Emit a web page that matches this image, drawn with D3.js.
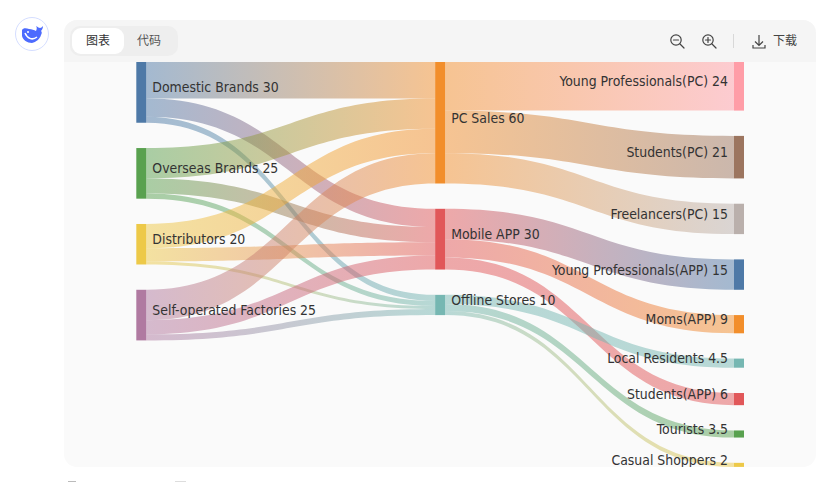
<!DOCTYPE html>
<html>
<head>
<meta charset="utf-8">
<script src="https://cdn.jsdelivr.net/npm/d3@7"></script>
<style>
  html, body { margin: 0; padding: 0; background: #fff; overflow: hidden; }
  svg { display: block; }
  text { font-family: "DejaVu Sans Condensed", "DejaVu Sans", sans-serif; }
  text.ui { font-family: "Noto Sans CJK SC", sans-serif; }
</style>
</head>
<body>
<div id="chart"></div>
<script>
const width = 828, height = 482

// columns, top to bottom
const sources = ['Domestic Brands', 'Overseas Brands', 'Distributors', 'Self-operated Factories']
const sourceValues = [30, 25, 20, 25]
const channels = ['PC Sales', 'Mobile APP', 'Offline Stores']
const channelValues = [60, 30, 10]
const targets = ['Young Professionals(PC)', 'Students(PC)', 'Freelancers(PC)', 'Young Professionals(APP)', 'Moms(APP)', 'Local Residents', 'Students(APP)', 'Tourists', 'Casual Shoppers']
const targetValues = [24, 21, 15, 15, 9, 4.5, 6, 3.5, 2]

// links: rows = sources, cols = channels
const sourceToChannel = [
  [18, 9, 3],
  [15, 7.5, 2.5],
  [12, 6.5, 1.5],
  [15, 7, 3]
]
// rows = channels, cols = targets
const channelToTarget = [
  [24, 21, 15, 0, 0, 0, 0, 0, 0],
  [0, 0, 0, 15, 9, 0, 6, 0, 0],
  [0, 0, 0, 0, 0, 4.5, 0, 3.5, 2]
]

const sourceColors = ['#4e79a7', '#59a14f', '#edc948', '#b07aa1']
const channelColors = ['#f28e2b', '#e15759', '#76b7b2']
const targetColors = ['#ff9da7', '#9c755f', '#bab0ac', '#4e79a7', '#f28e2b', '#76b7b2', '#e15759', '#59a14f', '#edc948']

const nodeW = 10, gap = 25.3, topY = 62

const x = d3.scalePoint().domain([0, 1, 2]).range([136.3, 734])
const size = d3.scaleLinear().domain([0, 60]).range([0, 121.5])

const svg = d3.select('#chart').append('svg').attr('width', width).attr('height', height)
const defs = svg.append('defs')

// panel
svg.append('rect').attr('x', 64).attr('y', 20).attr('width', 752).attr('height', 447).attr('rx', 13).attr('fill', '#fafafa')
defs.append('clipPath').attr('id', 'head').append('rect').attr('x', 64).attr('y', 20).attr('width', 752).attr('height', 42)
svg.append('rect').attr('x', 64).attr('y', 20).attr('width', 752).attr('height', 447).attr('rx', 13)
  .attr('fill', '#f5f5f5').attr('clip-path', 'url(#head)')
defs.append('clipPath').attr('id', 'body').append('rect').attr('x', 64).attr('y', 62).attr('width', 752).attr('height', 405)

const g = svg.append('g').attr('clip-path', 'url(#body)')

function column(names, values, colors, depth) {
  let y = topY
  return names.map((name, i) => {
    const n = { name, value: values[i], color: colors[i], depth, y0: y, y1: y + size(values[i]), out: y, in: y }
    y = n.y1 + gap
    return n
  })
}
const col0 = column(sources, sourceValues, sourceColors, 0)
const col1 = column(channels, channelValues, channelColors, 1)
const col2 = column(targets, targetValues, targetColors, 2)

function makeLinks(from, to, matrix) {
  const out = []
  from.forEach((s, i) => to.forEach((t, j) => {
    const v = matrix[i][j]
    if (!v) return
    out.push({ s, t, v, sy: s.out, ty: t.in })
    s.out += size(v)
    t.in += size(v)
  }))
  return out
}
const links = makeLinks(col0, col1, sourceToChannel).concat(makeLinks(col1, col2, channelToTarget))

links.forEach((l, i) => {
  const x0 = x(l.s.depth) + nodeW, x1 = x(l.t.depth)
  const grad = defs.append('linearGradient').attr('id', 'lg' + i)
    .attr('gradientUnits', 'userSpaceOnUse').attr('x1', x0).attr('x2', x1).attr('y1', 0).attr('y2', 0)
  grad.append('stop').attr('offset', '0%').attr('stop-color', l.s.color)
  grad.append('stop').attr('offset', '100%').attr('stop-color', l.t.color)
  const h = size(l.v), mx = (x0 + x1) / 2
  const p = d3.path()
  p.moveTo(x0, l.sy)
  p.bezierCurveTo(mx, l.sy, mx, l.ty, x1, l.ty)
  p.lineTo(x1, l.ty + h)
  p.bezierCurveTo(mx, l.ty + h, mx, l.sy + h, x0, l.sy + h)
  p.closePath()
  g.append('path').attr('d', p.toString()).attr('fill', `url(#lg${i})`).attr('fill-opacity', 0.5)
})

const nodes = col0.concat(col1, col2)
g.selectAll('rect.node').data(nodes).join('rect').attr('class', 'node')
  .attr('x', d => x(d.depth)).attr('y', d => d.y0)
  .attr('width', nodeW).attr('height', d => d.y1 - d.y0)
  .attr('fill', d => d.color)

// baseline sits on the node's centre in the reference
g.selectAll('text.label').data(nodes).join('text').attr('class', 'label')
  .attr('x', d => d.depth == 2 ? x(d.depth) - 6 : x(d.depth) + nodeW + 6)
  .attr('y', d => (d.y0 + d.y1) / 2)
  .attr('text-anchor', d => d.depth == 2 ? 'end' : 'start')
  .attr('font-size', 13.9).attr('fill', '#333')
  .text(d => d.name + ' ' + d.value)

// toolbar
const ui = svg.append('g')
ui.append('rect').attr('x', 70).attr('y', 26).attr('width', 108).attr('height', 30).attr('rx', 10).attr('fill', '#eeeeee')
ui.append('rect').attr('x', 72).attr('y', 28).attr('width', 52).attr('height', 26).attr('rx', 9).attr('fill', '#fff')
ui.append('text').attr('class', 'ui').attr('x', 98).attr('y', 45).attr('text-anchor', 'middle').attr('font-size', 12).attr('fill', '#333').text('图表')
ui.append('text').attr('class', 'ui').attr('x', 149).attr('y', 45).attr('text-anchor', 'middle').attr('font-size', 12).attr('fill', '#555').text('代码')

function zoomIcon(cx, plus) {
  const ic = ui.append('g').attr('fill', 'none').attr('stroke', '#444').attr('stroke-width', 1.2).attr('stroke-linecap', 'round')
  ic.append('circle').attr('cx', cx - 1).attr('cy', 40).attr('r', 5.2)
  ic.append('path').attr('d', `M${cx + 3},${44} L${cx + 7},${48}`)
  ic.append('path').attr('d', `M${cx - 3.5},40 H${cx + 1.5}`)
  if (plus) ic.append('path').attr('d', `M${cx - 1},37.5 V42.5`)
}
zoomIcon(677, false)
zoomIcon(709, true)
ui.append('rect').attr('x', 733).attr('y', 34).attr('width', 1).attr('height', 14).attr('fill', '#d8d8d8')
ui.append('path').attr('d', 'M759,35 V45 M755,41.5 L759,45.5 L763,41.5 M753,45 V48 H765 V45')
  .attr('fill', 'none').attr('stroke', '#444').attr('stroke-width', 1.2)
ui.append('text').attr('class', 'ui').attr('x', 785).attr('y', 45).attr('text-anchor', 'middle').attr('font-size', 12).attr('fill', '#444').text('下载')

// logo
svg.append('circle').attr('cx', 32).attr('cy', 34).attr('r', 16.5).attr('fill', '#fff').attr('stroke', '#d5deff').attr('stroke-width', 1)
svg.append('path').attr('fill', '#4d6bfe')
  .attr('d', 'M22,30 C23,28 26,28 29,29 C32,29 34,30 36,31 C37,29 37,27 36,26 C38,27 39,28 40,28 C41,28 42,27 43,26 C43,28 42,30 41,31 C42,32 42,33 41,35 C40,39 36,42 32,43 C27,43 23,40 22,36 Z')
svg.append('path').attr('fill', 'none').attr('stroke', '#fff').attr('stroke-width', 1.5)
  .attr('d', 'M25,33 C27,38 32,41 37,37')
svg.append('circle').attr('cx', 28).attr('cy', 32).attr('r', 1).attr('fill', '#fff')

// tops of the next line of text, cut off by the window
svg.append('rect').attr('x', 68).attr('y', 481).attr('width', 8).attr('height', 1).attr('fill', '#bbb')
svg.append('rect').attr('x', 175).attr('y', 481).attr('width', 11).attr('height', 1).attr('fill', '#ddd')
</script>
</body>
</html>
